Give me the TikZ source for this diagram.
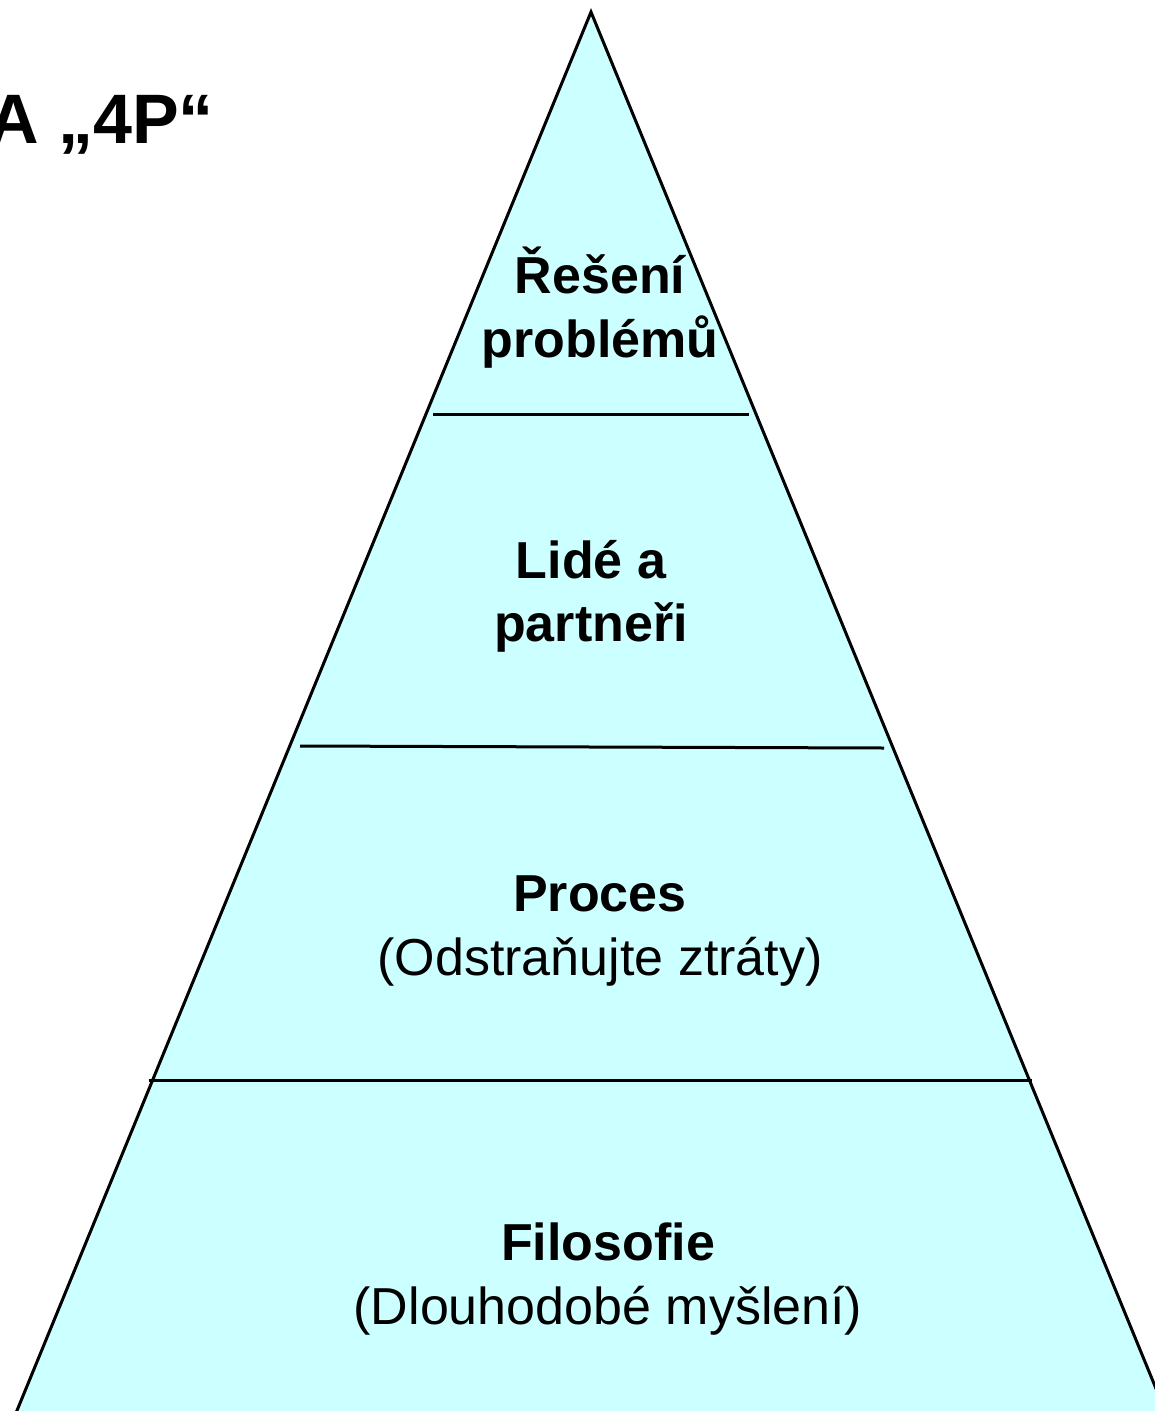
\documentclass[tikz,border=0pt]{standalone}
\usepackage{fontspec}
\setmainfont{Liberation Sans}
\definecolor{pyrfill}{RGB}{204,255,255}
\begin{document}
\begin{tikzpicture}[x=1pt,y=-1pt,
  edge/.style={line width=3pt},
  divider/.style={line width=3pt},
  boldlbl/.style={anchor=base,inner sep=0pt,font=\fontsize{52}{65}\selectfont\bfseries},
  plainlbl/.style={anchor=base,inner sep=0pt,font=\fontsize{52}{65}\selectfont},
  titlelbl/.style={anchor=base west,inner sep=0pt,font=\fontsize{70}{84}\selectfont\bfseries}]
\useasboundingbox (0,0) rectangle (1155,1411);
\clip (0,0) rectangle (1155,1411);
\coordinate (apex) at (591,12);
\coordinate (bl) at (9,1430);
\coordinate (br) at (1173,1430);
\filldraw[edge,fill=pyrfill,line join=miter] (bl) -- (apex) -- (br);
% dividers
\coordinate (d1l) at (433,414); \coordinate (d1r) at (749,414);
\coordinate (d2l) at (300,746); \coordinate (d2r) at (884,748);
\coordinate (d3l) at (149,1080); \coordinate (d3r) at (1032,1080);
\draw[divider] (d1l) -- (d1r);
\draw[divider] (d2l) -- (d2r);
\draw[divider] (d3l) -- (d3r);
% title
\node[titlelbl] (title) at (-12,143) {A „4P“};
% labels
\node[boldlbl] (t1a) at (600,293) {Řešení};
\node[boldlbl] (t1b) at (600,357) {problémů};
\node[boldlbl] (t2a) at (591,578) {Lidé a};
\node[boldlbl] (t2b) at (591,641) {partneři};
\node[boldlbl] (t3a) at (600,911) {Proces};
\node[plainlbl] (t3b) at (600,975) {(Odstraňujte ztráty)};
\node[boldlbl] (t4a) at (608,1260) {Filosofie};
\node[plainlbl] (t4b) at (608,1324) {(Dlouhodobé myšlení)};
\end{tikzpicture}
\end{document}
